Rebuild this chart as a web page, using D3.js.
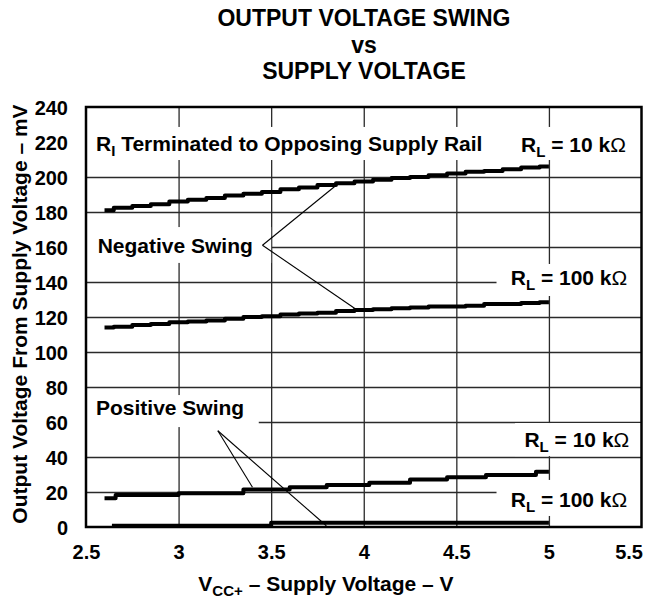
<!DOCTYPE html>
<html>
<head>
<meta charset="utf-8">
<script src="https://cdn.jsdelivr.net/npm/d3@7/dist/d3.min.js"></script>
<style>
  body { margin: 0; background: #fff; }
  svg text { font-family: "Liberation Sans", Arial, Helvetica, sans-serif; font-weight: bold; fill: #000; }
</style>
</head>
<body>
<svg id="chart"></svg>
<script>
CHART_WIDTH = 645;
CHART_HEIGHT = 605;
CHART_MARGIN = { top: 107, right: 3.5, bottom: 78, left: 86 };

// tick labels
var V_TICKS = [2.5, 3, 3.5, 4, 4.5, 5, 5.5];
var MV_TICKS = [0, 20, 40, 60, 80, 100, 120, 140, 160, 180, 200, 220, 240];

// negative swing, read every 0.1 V
var negV = [2.6, 2.7, 2.8, 2.9, 3.0, 3.1, 3.2, 3.3, 3.4, 3.5, 3.6, 3.7, 3.8,
            3.9, 4.0, 4.1, 4.2, 4.3, 4.4, 4.5, 4.6, 4.7, 4.8, 4.9, 5.0];
var neg10k = [181, 182.5, 183.5, 184.5, 186, 187, 188, 189.5, 190.5, 191.5, 193, 194, 195.5,
              196.5, 197.5, 198.5, 199.5, 200, 201, 202, 203, 203.5, 204.5, 205.5, 206];
var neg100k = [114, 114.5, 115.5, 116, 117, 117.5, 118, 119, 120, 120.5, 121.5, 122, 122.5,
               123.5, 124, 124.5, 125, 125.5, 126, 126, 126.5, 127.5, 127.5, 128, 128.5];

// positive swing, step corners
var pos10kV = [2.6, 2.66, 3.0, 3.35, 3.6, 3.8, 4.03, 4.25, 4.45, 4.66, 4.93, 5.0];
var pos10k = [16.5, 18.3, 19.3, 21.5, 22.7, 24.0, 25.3, 27.2, 28.4, 29.7, 31.6, 31.6];
var pos100kV = [2.64, 3.5, 5.0];
var pos100k = [0.7, 2.4, 2.4];

function zip(xs, ys) {
    return xs.map(function(v, i) { return { v: v, mv: ys[i] }; });
}

function sizeSVG(svg) {
    svg.attr("width", CHART_WIDTH).attr("height", CHART_HEIGHT);
}

function addLabel(g, parts, x, y, anchor) {
    var t = g.append("text")
        .attr("x", x)
        .attr("y", y)
        .attr("text-anchor", anchor)
        .style("font-size", "21px");
    parts.forEach(function(p) {
        var span = t.append("tspan").text(p.t);
        if (p.sub) {
            span.attr("dy", 5).style("font-size", "15px");
        } else if (p.after) {
            span.attr("dy", -5);
        }
        if (p.thin) span.style("font-weight", "normal");
    });
    return t;
}

function rlLabel(value) {
    return [{ t: "R" }, { t: "L", sub: true }, { t: " = " + value + " k", after: true }, { t: "\u03A9", thin: true }];
}

function buildChart() {
    var svg = d3.select("#chart");
    sizeSVG(svg);
    var width = CHART_WIDTH - CHART_MARGIN.left - CHART_MARGIN.right;
    var height = CHART_HEIGHT - CHART_MARGIN.top - CHART_MARGIN.bottom;

    var x = d3.scaleLinear().domain([2.5, 5.5]).range([0, width]);
    var y = d3.scaleLinear().domain([0, 240]).range([height, 0]);

    // title
    var title = svg.append("g").attr("transform", "translate(364,0)");
    [["OUTPUT VOLTAGE SWING", 26], ["vs", 53], ["SUPPLY VOLTAGE", 79]].forEach(function(l) {
        title.append("text")
            .attr("y", l[1])
            .attr("text-anchor", "middle")
            .style("font-size", "23px")
            .text(l[0]);
    });

    var g = svg.append("g")
        .attr("transform", "translate(" + CHART_MARGIN.left + "," + CHART_MARGIN.top + ")");

    // grid
    g.append("g")
        .attr("class", "grid")
        .call(d3.axisLeft(y).tickValues(MV_TICKS.filter(function(d) { return d > 0 && d < 220; }))
              .tickSize(-width).tickFormat(""))
        .call(function(a) { a.select(".domain").remove(); })
        .selectAll("line").attr("stroke", "#2a2a2a").attr("stroke-width", 1.3);

    g.append("g")
        .attr("class", "grid")
        .attr("transform", "translate(0," + height + ")")
        .call(d3.axisBottom(x).tickValues(V_TICKS.slice(1, -1)).tickSize(-height).tickFormat(""))
        .call(function(a) { a.select(".domain").remove(); })
        .selectAll("line").attr("stroke", "#2a2a2a").attr("stroke-width", 1.3);

    // white boxes behind labels [v0, v1, mv0, mv1]
    var boxes = [
        [2.5, 5.5, 209.7, 228.6],
        [2.5, 3.5, 150.9, 171.4],
        [2.5, 3.433, 57.1, 75.4],
        [4.717, 5.5, 132, 150.3],
        [4.817, 5.5, 40.5, 59.4],
        [4.717, 5.5, 6.3, 26.9]
    ];
    g.selectAll(".box")
        .data(boxes)
        .enter().append("rect")
        .attr("class", "box")
        .attr("fill", "#fff")
        .attr("x", function(d) { return x(d[0]); })
        .attr("width", function(d) { return x(d[1]) - x(d[0]); })
        .attr("y", function(d) { return y(d[3]); })
        .attr("height", function(d) { return y(d[2]) - y(d[3]); });

    // axes labels
    g.append("g")
        .attr("transform", "translate(0," + height + ")")
        .call(d3.axisBottom(x).tickValues(V_TICKS).tickSize(0).tickPadding(18)
              .tickFormat(function(d) { return d; }))
        .call(function(a) { a.select(".domain").remove(); })
        .selectAll("text")
        .style("font-size", "20px")
        .attr("text-anchor", function(d) { return d === 5.5 ? "end" : "middle"; })
        .attr("dx", function(d) { return d === 5.5 ? 1 : 0; });

    g.append("g")
        .call(d3.axisLeft(y).tickValues(MV_TICKS).tickSize(0).tickPadding(18))
        .call(function(a) { a.select(".domain").remove(); })
        .selectAll("text")
        .attr("dy", "0.36em")
        .style("font-size", "20px");

    // frame
    g.append("rect")
        .attr("width", width)
        .attr("height", height)
        .attr("fill", "none")
        .attr("stroke", "#000")
        .attr("stroke-width", 2.5);

    // in-plot labels
    addLabel(g, [{ t: "R" }, { t: "I", sub: true }, { t: " Terminated to Opposing Supply Rail", after: true }],
             x(2.554), y(214.9), "start");
    addLabel(g, rlLabel("10"), x(5.416), y(214.3), "end");
    addLabel(g, [{ t: "Negative Swing" }], x(2.563), y(156.4), "start");
    addLabel(g, rlLabel("100"), x(5.423), y(138.3), "end");
    addLabel(g, [{ t: "Positive Swing" }], x(2.554), y(64), "start");
    addLabel(g, rlLabel("10"), x(5.434), y(45.9), "end");
    addLabel(g, rlLabel("100"), x(5.423), y(11.6), "end");

    // leader lines [apex, end]
    var leaders = [
        [[3.453, 161], [3.848, 195]],
        [[3.453, 161], [3.956, 124.6]],
        [[3.212, 55], [3.399, 22.7]],
        [[3.212, 55], [3.798, 0.7]]
    ];
    g.selectAll(".leader")
        .data(leaders)
        .enter().append("line")
        .attr("class", "leader")
        .attr("stroke", "#000")
        .attr("stroke-width", 1.1)
        .attr("x1", function(d) { return x(d[0][0]); })
        .attr("y1", function(d) { return y(d[0][1]); })
        .attr("x2", function(d) { return x(d[1][0]); })
        .attr("y2", function(d) { return y(d[1][1]); });

    // curves
    var stepMid = d3.line()
        .x(function(d) { return x(d.v); })
        .y(function(d) { return y(d.mv); })
        .curve(d3.curveStep);
    var stepAfter = d3.line()
        .x(function(d) { return x(d.v); })
        .y(function(d) { return y(d.mv); })
        .curve(d3.curveStepAfter);

    var series = [
        { pts: zip(negV, neg10k), line: stepMid },
        { pts: zip(negV, neg100k), line: stepMid },
        { pts: zip(pos10kV, pos10k), line: stepAfter },
        { pts: zip(pos100kV, pos100k), line: stepAfter }
    ];
    g.selectAll(".curve")
        .data(series)
        .enter().append("path")
        .attr("class", "curve")
        .attr("fill", "none")
        .attr("stroke", "#000")
        .attr("stroke-width", 4)
        .attr("stroke-linejoin", "round")
        .attr("d", function(d) { return d.line(d.pts); });

    // axis titles
    var xt = svg.append("text")
        .attr("x", 326)
        .attr("y", 591)
        .attr("text-anchor", "middle")
        .style("font-size", "21px");
    xt.append("tspan").text("V");
    xt.append("tspan").attr("dy", 5).style("font-size", "15px").text("CC+");
    xt.append("tspan").attr("dy", -5).text(" \u2013 Supply Voltage \u2013 V");

    svg.append("text")
        .attr("transform", "translate(27,314) rotate(-90)")
        .attr("text-anchor", "middle")
        .style("font-size", "21px")
        .text("Output Voltage From Supply Voltage \u2013 mV");
}

buildChart();
</script>
</body>
</html>
